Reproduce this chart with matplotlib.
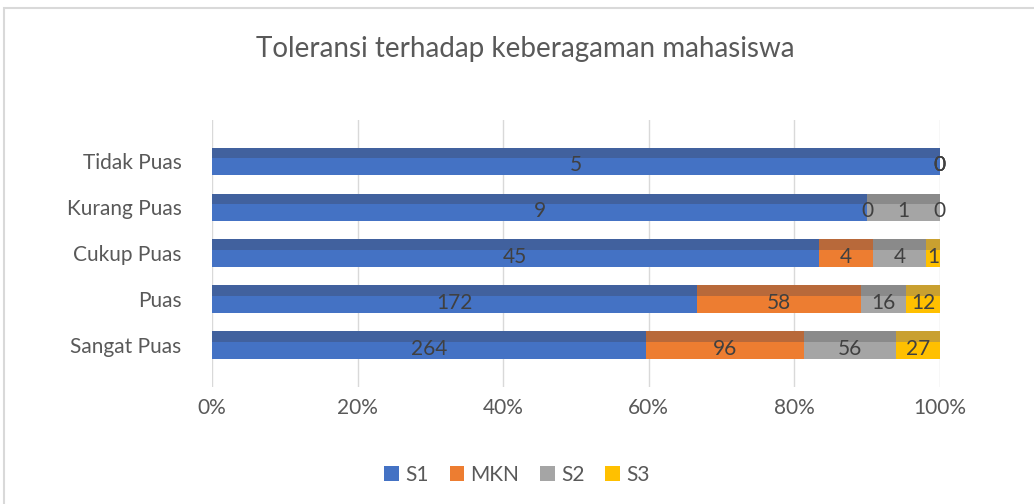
import numpy as np
import matplotlib.pyplot as plt
from matplotlib.patches import Rectangle

# ---------- data ----------
categories = ["Sangat Puas", "Puas", "Cukup Puas", "Kurang Puas", "Tidak Puas"]
series_names = ["S1", "MKN", "S2", "S3"]
s1 = [264, 172, 45, 9, 5]
mkn = [96, 58, 4, 0, 0]
s2 = [56, 16, 4, 1, 0]
s3 = [27, 12, 1, 0, 0]
title = "Toleransi terhadap keberagaman mahasiswa"
xticks = [0, 20, 40, 60, 80, 100]

face_colors = ["#4472C4", "#ED7D31", "#A5A5A5", "#FFC000"]
top_colors = ["#41619e", "#b8693a", "#8a8a8a", "#c9a030"]

plt.rcParams['font.family'] = ['Lato', 'DejaVu Sans']

fig = plt.figure(figsize=(10.34, 5.04), dpi=100)
ax = fig.add_axes([0.205, 0.233, 0.704, 0.529])

# chart frame
fig.patches.append(Rectangle((4 / 1034, -0.1), 1.2, 1 - 8 / 504 + 0.1,
                             transform=fig.transFigure, fill=False,
                             edgecolor="#d9d9d9", linewidth=1.5))

data = np.array([s1, mkn, s2, s3], dtype=float)
totals = data.sum(axis=0)
pct = data / totals * 100
y = np.arange(len(categories))
h = 0.6

left = np.zeros(len(categories))
for i, name in enumerate(series_names):
    ax.barh(y, pct[i], left=left, height=h, color=face_colors[i],
            label=name, zorder=2)
    # darker top face for a bit of a 3D look
    ax.barh(y + h / 2 - 0.11, pct[i], left=left, height=0.22,
            color=top_colors[i], zorder=3)
    for j in range(len(categories)):
        ax.text(left[j] + pct[i, j] / 2, y[j] - 0.08, f"{int(data[i, j])}",
                ha="center", va="center", fontsize=15, color="#404040",
                zorder=5)
    left += pct[i]

ax.set_xlim(0, 100)
ax.set_ylim(-0.9, 4.9)
ax.set_xticks(xticks)
ax.set_xticklabels([f"{t}%" for t in xticks], fontsize=15, color="#595959")
ax.set_yticks(y)
ax.set_yticklabels(categories, fontsize=15, color="#595959")
ax.tick_params(axis="x", length=0, pad=8)
ax.tick_params(axis="y", length=0, pad=22)
ax.grid(axis="x", color="#d9d9d9", linewidth=1, zorder=0)
for s in ax.spines.values():
    s.set_visible(False)

fig.text(0.508, 0.903, title, ha="center", va="center", fontsize=20,
         color="#595959")

handles, labels = ax.get_legend_handles_labels()
fig.legend(handles, labels, loc="center", bbox_to_anchor=(0.5, 0.058),
           ncol=4, frameon=False, fontsize=15, handlelength=0.7,
           handleheight=0.7, handletextpad=0.3, columnspacing=1.0,
           labelcolor="#595959")

fig.savefig("out.png", dpi=100)
